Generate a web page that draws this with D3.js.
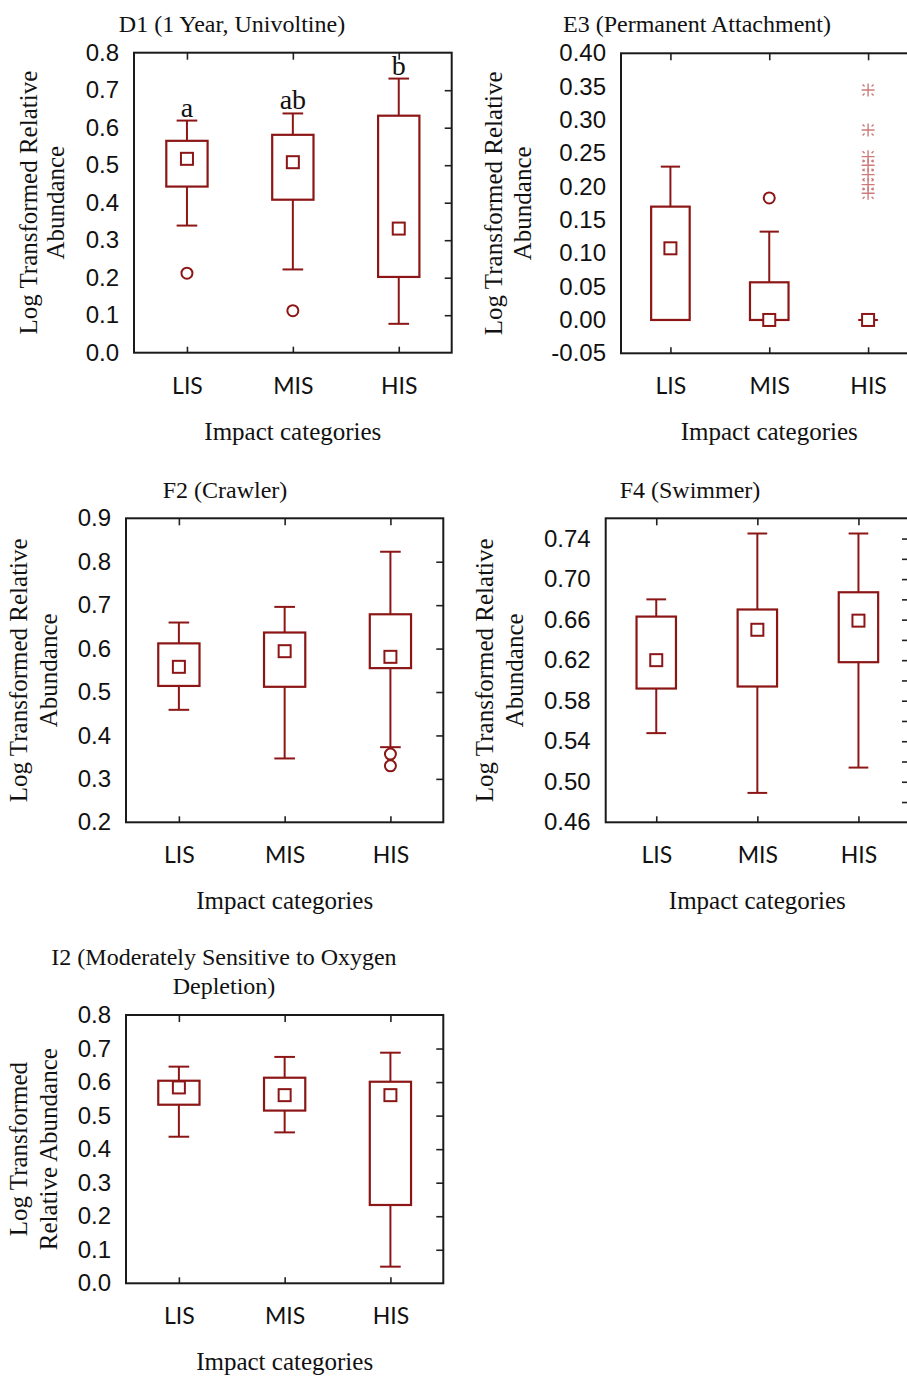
<!DOCTYPE html>
<html>
<head>
<meta charset="utf-8">
<script src="https://cdn.jsdelivr.net/npm/d3@7"></script>
<style>
  html, body { margin: 0; padding: 0; background: #ffffff; }
  svg { display: block; }
</style>
</head>
<body>
<svg id="chart" width="907" height="1377"></svg>
<script>
// ---------------- DATA ----------------
const categories = ["LIS", "MIS", "HIS"];

const d1Box = [
  { cat: "LIS", lo: 0.339, q1: 0.443, med: 0.517, q3: 0.565, hi: 0.619 },
  { cat: "MIS", lo: 0.222, q1: 0.408, med: 0.508, q3: 0.581, hi: 0.638 },
  { cat: "HIS", lo: 0.077, q1: 0.202, med: 0.331, q3: 0.632, hi: 0.731 }
];
const d1Outliers = [ { cat: "LIS", v: 0.212 }, { cat: "MIS", v: 0.112 } ];
const d1Letters = ["a", "ab", "b"];
const d1Ticks = [0, 0.1, 0.2, 0.3, 0.4, 0.5, 0.6, 0.7, 0.8];

const e3Box = [
  { cat: "LIS", lo: 0.0, q1: 0.0, med: 0.1075, q3: 0.170, hi: 0.230 },
  { cat: "MIS", lo: 0.0, q1: 0.0, med: 0.0, q3: 0.0565, hi: 0.1325 },
  { cat: "HIS", lo: 0.0, q1: 0.0, med: 0.0, q3: 0.0, hi: 0.0 }
];
const e3Outliers = [ { cat: "MIS", v: 0.183 } ];
const e3Extremes = [
  { cat: "HIS", v: 0.345 }, { cat: "HIS", v: 0.285 }, { cat: "HIS", v: 0.245 },
  { cat: "HIS", v: 0.232 }, { cat: "HIS", v: 0.218 }, { cat: "HIS", v: 0.203 },
  { cat: "HIS", v: 0.190 }
];
const e3Ticks = [-0.05, 0, 0.05, 0.10, 0.15, 0.20, 0.25, 0.30, 0.35, 0.40];

const f2Box = [
  { cat: "LIS", lo: 0.459, q1: 0.514, med: 0.558, q3: 0.612, hi: 0.660 },
  { cat: "MIS", lo: 0.347, q1: 0.512, med: 0.594, q3: 0.637, hi: 0.696 },
  { cat: "HIS", lo: 0.373, q1: 0.555, med: 0.581, q3: 0.679, hi: 0.823 }
];
const f2Outliers = [ { cat: "HIS", v: 0.357 }, { cat: "HIS", v: 0.330 } ];
const f2Ticks = [0.2, 0.3, 0.4, 0.5, 0.6, 0.7, 0.8, 0.9];

const f4Box = [
  { cat: "LIS", lo: 0.548, q1: 0.592, med: 0.620, q3: 0.663, hi: 0.680 },
  { cat: "MIS", lo: 0.489, q1: 0.594, med: 0.650, q3: 0.670, hi: 0.745 },
  { cat: "HIS", lo: 0.514, q1: 0.618, med: 0.659, q3: 0.687, hi: 0.745 }
];
const f4Ticks = [0.46, 0.50, 0.54, 0.58, 0.62, 0.66, 0.70, 0.74];
const f4MinorTicks = [0.48, 0.50, 0.52, 0.54, 0.56, 0.58, 0.60, 0.62, 0.64, 0.66, 0.68, 0.70, 0.72, 0.74];

const i2Box = [
  { cat: "LIS", lo: 0.437, q1: 0.5325, med: 0.584, q3: 0.604, hi: 0.646 },
  { cat: "MIS", lo: 0.450, q1: 0.515, med: 0.561, q3: 0.613, hi: 0.675 },
  { cat: "HIS", lo: 0.0496, q1: 0.2335, med: 0.561, q3: 0.601, hi: 0.6876 }
];
const i2Ticks = [0, 0.1, 0.2, 0.3, 0.4, 0.5, 0.6, 0.7, 0.8];

// ---------------- STYLE / LAYOUT ----------------
const RED = "#8c1616";
const STAR = "#cf7a7a";
const SERIF = "'Liberation Serif', 'Times New Roman', serif";
const SANS = "'Liberation Sans', Arial, sans-serif";
const CATFONT = "Lato, 'Open Sans', sans-serif";

const panels = [
  { box: d1Box, out: d1Outliers, ext: [], letters: d1Letters,
    ticks: d1Ticks, right: d1Ticks.slice(1, -1), fmt: ".1f", domain: [0, 0.8],
    x0: 134, x1: 451.7, y0: 52.7, y1: 352.7,
    title: ["D1 (1 Year, Univoltine)"], titleX: 232, titleY: [32],
    ytitle: ["Log Transformed Relative", "Abundance"], ytX: [37, 64] },
  { box: e3Box, out: e3Outliers, ext: e3Extremes, letters: null,
    ticks: e3Ticks, right: e3Ticks.slice(1, -1), fmt: ".2f", domain: [-0.05, 0.40],
    x0: 621, x1: 917.5, y0: 53.3, y1: 353.3,
    title: ["E3 (Permanent Attachment)"], titleX: 697, titleY: [32],
    ytitle: ["Log Transformed Relative", "Abundance"], ytX: [502, 531] },
  { box: f2Box, out: f2Outliers, ext: [], letters: null,
    ticks: f2Ticks, right: f2Ticks.slice(1, -1), fmt: ".1f", domain: [0.2, 0.9],
    x0: 126, x1: 443.3, y0: 518.3, y1: 822.3,
    title: ["F2 (Crawler)"], titleX: 225, titleY: [498],
    ytitle: ["Log Transformed Relative", "Abundance"], ytX: [27, 57] },
  { box: f4Box, out: [], ext: [], letters: null,
    ticks: f4Ticks, right: f4MinorTicks, fmt: ".2f", domain: [0.46, 0.76],
    x0: 605.7, x1: 909, y0: 518.3, y1: 822.3,
    title: ["F4 (Swimmer)"], titleX: 690, titleY: [498],
    ytitle: ["Log Transformed Relative", "Abundance"], ytX: [493, 523] },
  { box: i2Box, out: [], ext: [], letters: null,
    ticks: i2Ticks, right: i2Ticks.slice(1, -1), fmt: ".1f", domain: [0, 0.8],
    x0: 126, x1: 443.3, y0: 1015, y1: 1283.3,
    title: ["I2 (Moderately Sensitive to Oxygen", "Depletion)"], titleX: 224, titleY: [965, 994],
    ytitle: ["Log Transformed", "Relative Abundance"], ytX: [27, 57] }
];

const svg = d3.select("#chart");

panels.forEach(p => {
  const g = svg.append("g");
  const x = d3.scalePoint().domain(categories).range([p.x0, p.x1]).padding(0.5);
  const y = d3.scaleLinear().domain(p.domain).range([p.y1, p.y0]);
  const bw = x.step() * 0.39;
  const cw = bw * 0.5;
  const f = d3.format(p.fmt);
  const fmt = v => f(v).replace("\u2212", "-");

  // y tick labels (no tick marks on left)
  const yAxis = g.append("g").attr("transform", `translate(${p.x0},0)`)
    .call(d3.axisLeft(y).tickValues(p.ticks).tickSize(0).tickPadding(15).tickFormat(fmt));
  yAxis.select(".domain").remove();
  yAxis.selectAll("text").attr("font-family", SANS).attr("font-size", 24).attr("fill", "#111");

  // right inner ticks
  const rAxis = g.append("g").attr("transform", `translate(${p.x1},0)`)
    .call(d3.axisLeft(y).tickValues(p.right).tickSize(7).tickFormat(""));
  rAxis.select(".domain").remove();
  rAxis.selectAll("line").attr("stroke", "#222").attr("stroke-width", 1.6);

  // top inner ticks
  const tAxis = g.append("g").attr("transform", `translate(0,${p.y0})`)
    .call(d3.axisBottom(x).tickSize(7).tickFormat(""));
  tAxis.select(".domain").remove();
  tAxis.selectAll("line").attr("stroke", "#222").attr("stroke-width", 1.6);

  // bottom inner ticks
  const bAxis = g.append("g").attr("transform", `translate(0,${p.y1})`)
    .call(d3.axisTop(x).tickSize(6).tickFormat(""));
  bAxis.select(".domain").remove();
  bAxis.selectAll("line").attr("stroke", "#222").attr("stroke-width", 1.6);

  // category labels
  const cAxis = g.append("g").attr("transform", `translate(0,${p.y1})`)
    .call(d3.axisBottom(x).tickSize(0).tickPadding(0));
  cAxis.select(".domain").remove();
  cAxis.selectAll("text").attr("dy", null).attr("y", 41)
    .attr("font-family", CATFONT).attr("font-size", 23).attr("fill", "#111");

  // frame
  g.append("rect").attr("x", p.x0).attr("y", p.y0)
    .attr("width", p.x1 - p.x0).attr("height", p.y1 - p.y0)
    .attr("fill", "none").attr("stroke", "#1a1a1a").attr("stroke-width", 2);

  // boxes
  const bx = g.selectAll(".bx").data(p.box).join("g");
  bx.append("line")
    .attr("x1", d => x(d.cat)).attr("x2", d => x(d.cat))
    .attr("y1", d => y(d.hi)).attr("y2", d => y(d.q3))
    .attr("stroke", RED).attr("stroke-width", 2);
  bx.append("line")
    .attr("x1", d => x(d.cat)).attr("x2", d => x(d.cat))
    .attr("y1", d => y(d.q1)).attr("y2", d => y(d.lo))
    .attr("stroke", RED).attr("stroke-width", 2);
  bx.append("line")
    .attr("x1", d => x(d.cat) - cw / 2).attr("x2", d => x(d.cat) + cw / 2)
    .attr("y1", d => y(d.hi)).attr("y2", d => y(d.hi))
    .attr("stroke", RED).attr("stroke-width", 2);
  bx.append("line")
    .attr("x1", d => x(d.cat) - cw / 2).attr("x2", d => x(d.cat) + cw / 2)
    .attr("y1", d => y(d.lo)).attr("y2", d => y(d.lo))
    .attr("stroke", RED).attr("stroke-width", 2);
  bx.filter(d => d.q3 > d.q1).append("rect")
    .attr("x", d => x(d.cat) - bw / 2).attr("width", bw)
    .attr("y", d => y(d.q3)).attr("height", d => y(d.q1) - y(d.q3))
    .attr("fill", "none").attr("stroke", RED).attr("stroke-width", 2.2);
  bx.append("rect")
    .attr("x", d => x(d.cat) - 6).attr("y", d => y(d.med) - 6)
    .attr("width", 12).attr("height", 12)
    .attr("fill", "#fff").attr("stroke", RED).attr("stroke-width", 2);

  // outliers
  g.selectAll(".out").data(p.out).join("circle")
    .attr("cx", d => x(d.cat)).attr("cy", d => y(d.v)).attr("r", 5.5)
    .attr("fill", "none").attr("stroke", RED).attr("stroke-width", 2);

  // extremes (asterisks)
  const star = "M-6.5,0H6.5M0,-6.5V6.5M-5.5,-5.5L-3.5,-3.5M5.5,-5.5L3.5,-3.5M-5.5,5.5L-3.5,3.5M5.5,5.5L3.5,3.5";
  g.selectAll(".ext").data(p.ext).join("path")
    .attr("transform", d => `translate(${x(d.cat)},${y(d.v)})`)
    .attr("d", star).attr("fill", "none").attr("stroke", STAR).attr("stroke-width", 1.4);

  // significance letters
  if (p.letters) {
    g.selectAll(".let").data(p.box).join("text")
      .attr("x", d => x(d.cat)).attr("y", d => y(d.hi) - 4)
      .attr("text-anchor", "middle").attr("font-family", SERIF).attr("font-size", 28)
      .attr("fill", "#111").text((d, i) => p.letters[i]);
  }

  // title
  p.title.forEach((t, i) => {
    g.append("text").attr("x", p.titleX).attr("y", p.titleY[i])
      .attr("text-anchor", "middle").attr("font-family", SERIF).attr("font-size", 24)
      .attr("fill", "#111").text(t);
  });

  // y axis title
  const yc = (p.y0 + p.y1) / 2;
  p.ytitle.forEach((t, i) => {
    g.append("text")
      .attr("transform", `translate(${p.ytX[i]},${yc}) rotate(-90)`)
      .attr("text-anchor", "middle").attr("font-family", SERIF).attr("font-size", 25)
      .attr("fill", "#111").text(t);
  });

  // x axis title
  g.append("text").attr("x", (p.x0 + p.x1) / 2).attr("y", p.y1 + 87)
    .attr("text-anchor", "middle").attr("font-family", SERIF).attr("font-size", 25)
    .attr("fill", "#111").text("Impact categories");
});
</script>
</body>
</html>
